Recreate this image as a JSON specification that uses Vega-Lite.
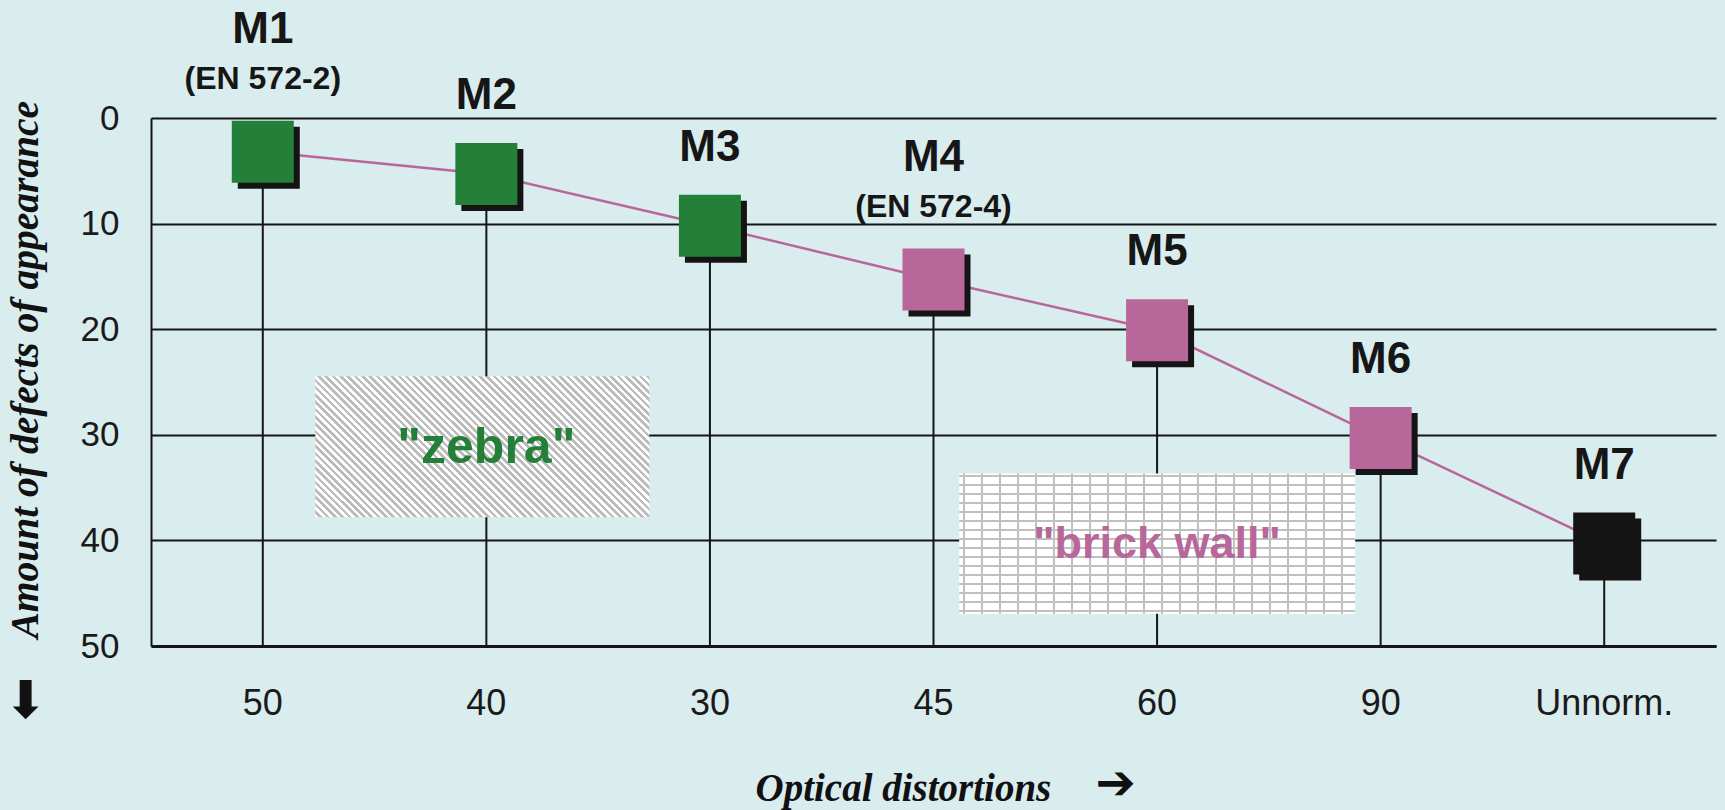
{
  "$schema": "https://vega.github.io/schema/vega-lite/v6.json",
  "width": 1565,
  "height": 528,
  "autosize": {"type": "none"},
  "padding": {"left": 151, "top": 118, "right": 9, "bottom": 164},
  "background": "#D9ECEE",
  "datasets": {
    "main": [
      {"m": "M1", "sub": "(EN 572-2)", "opt": "50", "v": 3.2, "grp": "zebra"},
      {"m": "M2", "sub": "", "opt": "40", "v": 5.3, "grp": "zebra"},
      {"m": "M3", "sub": "", "opt": "30", "v": 10.2, "grp": "zebra"},
      {"m": "M4", "sub": "(EN 572-4)", "opt": "45", "v": 15.3, "grp": "brick wall"},
      {"m": "M5", "sub": "", "opt": "60", "v": 20.1, "grp": "brick wall"},
      {"m": "M6", "sub": "", "opt": "90", "v": 30.3, "grp": "brick wall"},
      {"m": "M7", "sub": "", "opt": "Unnorm.", "v": 40.3, "grp": "unnormed"}
    ],
    "boxes": [
      {"name": "zebra", "x0": 0.735, "x1": 2.229, "y0": 24.45, "y1": 37.8},
      {"name": "brick", "x0": 3.615, "x1": 5.386, "y0": 33.66, "y1": 46.94}
    ],
    "notes": [
      {"text": "\"zebra\"", "opt": "40", "v": 32.7, "grp": "zebra"},
      {"text": "\"brick wall\"", "opt": "60", "v": 41.7, "grp": "brick wall"}
    ]
  },
  "layer": [
    {
      "data": {"name": "main"},
      "mark": {"type": "rule", "color": "#161616", "strokeWidth": 2},
      "encoding": {
        "x": {"field": "opt", "type": "nominal", "scale": {"domain": ["50", "40", "30", "45", "60", "90", "Unnorm."]},
          "axis": {"title": "Optical distortions", "titleAlign": "left", "titleAnchor": "start", "titleBaseline": "alphabetic", "titleX": 604, "titleY": 154}},
        "y": {"field": "v", "type": "quantitative",
          "scale": {"domain": [0, 50], "reverse": true, "nice": false, "zero": false},
          "axis": {"values": [0, 10, 20, 30, 40, 50], "title": "Amount of defects of appearance", "titleFontSize": 39.5, "titleAngle": 270, "titleAlign": "left", "titleBaseline": "alphabetic", "titleX": -114, "titleY": 520}},
        "y2": {"datum": 50}
      }
    },
    {
      "data": {"name": "boxes"},
      "encoding": {
        "x": {"field": "x0", "type": "quantitative", "scale": {"domain": [0, 7], "nice": false, "zero": false}, "axis": null},
        "x2": {"field": "x1"},
        "y": {"field": "y0", "type": "quantitative",
          "scale": {"domain": [0, 50], "reverse": true, "nice": false, "zero": false},
          "axis": {"orient": "right", "title": "\u2b07", "titleFont": "DejaVu Sans", "titleFontSize": 52, "titleFontStyle": "normal", "titleFontWeight": "normal", "titleColor": "#111111",
            "titleAngle": 0, "titleAlign": "center", "titleBaseline": "middle", "titleX": -1691, "titleY": 583,
            "labels": false, "domain": false, "grid": false, "ticks": false}},
        "y2": {"field": "y1"}
      },
      "layer": [
        {
          "transform": [{"filter": "datum.name == 'zebra'"}],
          "mark": {"type": "rect", "strokeWidth": 0, "fill": {"gradient": "linear", "x1": 0, "y1": 1, "x2": 1.2071, "y2": 0.4904, "stops": [
            {"offset": 0, "color": "#fff"},
            {"offset": 0.0077, "color": "#fff"}, {"offset": 0.0077, "color": "#bcbcbc"}, {"offset": 0.0154, "color": "#bcbcbc"}, {"offset": 0.0154, "color": "#fff"},
            {"offset": 0.0231, "color": "#fff"}, {"offset": 0.0231, "color": "#bcbcbc"}, {"offset": 0.0308, "color": "#bcbcbc"}, {"offset": 0.0308, "color": "#fff"},
            {"offset": 0.0385, "color": "#fff"}, {"offset": 0.0385, "color": "#bcbcbc"}, {"offset": 0.0462, "color": "#bcbcbc"}, {"offset": 0.0462, "color": "#fff"},
            {"offset": 0.0538, "color": "#fff"}, {"offset": 0.0538, "color": "#bcbcbc"}, {"offset": 0.0615, "color": "#bcbcbc"}, {"offset": 0.0615, "color": "#fff"},
            {"offset": 0.0692, "color": "#fff"}, {"offset": 0.0692, "color": "#bcbcbc"}, {"offset": 0.0769, "color": "#bcbcbc"}, {"offset": 0.0769, "color": "#fff"},
            {"offset": 0.0846, "color": "#fff"}, {"offset": 0.0846, "color": "#bcbcbc"}, {"offset": 0.0923, "color": "#bcbcbc"}, {"offset": 0.0923, "color": "#fff"},
            {"offset": 0.1, "color": "#fff"}, {"offset": 0.1, "color": "#bcbcbc"}, {"offset": 0.1077, "color": "#bcbcbc"}, {"offset": 0.1077, "color": "#fff"},
            {"offset": 0.1154, "color": "#fff"}, {"offset": 0.1154, "color": "#bcbcbc"}, {"offset": 0.1231, "color": "#bcbcbc"}, {"offset": 0.1231, "color": "#fff"},
            {"offset": 0.1308, "color": "#fff"}, {"offset": 0.1308, "color": "#bcbcbc"}, {"offset": 0.1385, "color": "#bcbcbc"}, {"offset": 0.1385, "color": "#fff"},
            {"offset": 0.1462, "color": "#fff"}, {"offset": 0.1462, "color": "#bcbcbc"}, {"offset": 0.1538, "color": "#bcbcbc"}, {"offset": 0.1538, "color": "#fff"},
            {"offset": 0.1615, "color": "#fff"}, {"offset": 0.1615, "color": "#bcbcbc"}, {"offset": 0.1692, "color": "#bcbcbc"}, {"offset": 0.1692, "color": "#fff"},
            {"offset": 0.1769, "color": "#fff"}, {"offset": 0.1769, "color": "#bcbcbc"}, {"offset": 0.1846, "color": "#bcbcbc"}, {"offset": 0.1846, "color": "#fff"},
            {"offset": 0.1923, "color": "#fff"}, {"offset": 0.1923, "color": "#bcbcbc"}, {"offset": 0.2, "color": "#bcbcbc"}, {"offset": 0.2, "color": "#fff"},
            {"offset": 0.2077, "color": "#fff"}, {"offset": 0.2077, "color": "#bcbcbc"}, {"offset": 0.2154, "color": "#bcbcbc"}, {"offset": 0.2154, "color": "#fff"},
            {"offset": 0.2231, "color": "#fff"}, {"offset": 0.2231, "color": "#bcbcbc"}, {"offset": 0.2308, "color": "#bcbcbc"}, {"offset": 0.2308, "color": "#fff"},
            {"offset": 0.2385, "color": "#fff"}, {"offset": 0.2385, "color": "#bcbcbc"}, {"offset": 0.2462, "color": "#bcbcbc"}, {"offset": 0.2462, "color": "#fff"},
            {"offset": 0.2538, "color": "#fff"}, {"offset": 0.2538, "color": "#bcbcbc"}, {"offset": 0.2615, "color": "#bcbcbc"}, {"offset": 0.2615, "color": "#fff"},
            {"offset": 0.2692, "color": "#fff"}, {"offset": 0.2692, "color": "#bcbcbc"}, {"offset": 0.2769, "color": "#bcbcbc"}, {"offset": 0.2769, "color": "#fff"},
            {"offset": 0.2846, "color": "#fff"}, {"offset": 0.2846, "color": "#bcbcbc"}, {"offset": 0.2923, "color": "#bcbcbc"}, {"offset": 0.2923, "color": "#fff"},
            {"offset": 0.3, "color": "#fff"}, {"offset": 0.3, "color": "#bcbcbc"}, {"offset": 0.3077, "color": "#bcbcbc"}, {"offset": 0.3077, "color": "#fff"},
            {"offset": 0.3154, "color": "#fff"}, {"offset": 0.3154, "color": "#bcbcbc"}, {"offset": 0.3231, "color": "#bcbcbc"}, {"offset": 0.3231, "color": "#fff"},
            {"offset": 0.3308, "color": "#fff"}, {"offset": 0.3308, "color": "#bcbcbc"}, {"offset": 0.3385, "color": "#bcbcbc"}, {"offset": 0.3385, "color": "#fff"},
            {"offset": 0.3462, "color": "#fff"}, {"offset": 0.3462, "color": "#bcbcbc"}, {"offset": 0.3538, "color": "#bcbcbc"}, {"offset": 0.3538, "color": "#fff"},
            {"offset": 0.3615, "color": "#fff"}, {"offset": 0.3615, "color": "#bcbcbc"}, {"offset": 0.3692, "color": "#bcbcbc"}, {"offset": 0.3692, "color": "#fff"},
            {"offset": 0.3769, "color": "#fff"}, {"offset": 0.3769, "color": "#bcbcbc"}, {"offset": 0.3846, "color": "#bcbcbc"}, {"offset": 0.3846, "color": "#fff"},
            {"offset": 0.3923, "color": "#fff"}, {"offset": 0.3923, "color": "#bcbcbc"}, {"offset": 0.4, "color": "#bcbcbc"}, {"offset": 0.4, "color": "#fff"},
            {"offset": 0.4077, "color": "#fff"}, {"offset": 0.4077, "color": "#bcbcbc"}, {"offset": 0.4154, "color": "#bcbcbc"}, {"offset": 0.4154, "color": "#fff"},
            {"offset": 0.4231, "color": "#fff"}, {"offset": 0.4231, "color": "#bcbcbc"}, {"offset": 0.4308, "color": "#bcbcbc"}, {"offset": 0.4308, "color": "#fff"},
            {"offset": 0.4385, "color": "#fff"}, {"offset": 0.4385, "color": "#bcbcbc"}, {"offset": 0.4462, "color": "#bcbcbc"}, {"offset": 0.4462, "color": "#fff"},
            {"offset": 0.4538, "color": "#fff"}, {"offset": 0.4538, "color": "#bcbcbc"}, {"offset": 0.4615, "color": "#bcbcbc"}, {"offset": 0.4615, "color": "#fff"},
            {"offset": 0.4692, "color": "#fff"}, {"offset": 0.4692, "color": "#bcbcbc"}, {"offset": 0.4769, "color": "#bcbcbc"}, {"offset": 0.4769, "color": "#fff"},
            {"offset": 0.4846, "color": "#fff"}, {"offset": 0.4846, "color": "#bcbcbc"}, {"offset": 0.4923, "color": "#bcbcbc"}, {"offset": 0.4923, "color": "#fff"},
            {"offset": 0.5, "color": "#fff"}, {"offset": 0.5, "color": "#bcbcbc"}, {"offset": 0.5077, "color": "#bcbcbc"}, {"offset": 0.5077, "color": "#fff"},
            {"offset": 0.5154, "color": "#fff"}, {"offset": 0.5154, "color": "#bcbcbc"}, {"offset": 0.5231, "color": "#bcbcbc"}, {"offset": 0.5231, "color": "#fff"},
            {"offset": 0.5308, "color": "#fff"}, {"offset": 0.5308, "color": "#bcbcbc"}, {"offset": 0.5385, "color": "#bcbcbc"}, {"offset": 0.5385, "color": "#fff"},
            {"offset": 0.5462, "color": "#fff"}, {"offset": 0.5462, "color": "#bcbcbc"}, {"offset": 0.5538, "color": "#bcbcbc"}, {"offset": 0.5538, "color": "#fff"},
            {"offset": 0.5615, "color": "#fff"}, {"offset": 0.5615, "color": "#bcbcbc"}, {"offset": 0.5692, "color": "#bcbcbc"}, {"offset": 0.5692, "color": "#fff"},
            {"offset": 0.5769, "color": "#fff"}, {"offset": 0.5769, "color": "#bcbcbc"}, {"offset": 0.5846, "color": "#bcbcbc"}, {"offset": 0.5846, "color": "#fff"},
            {"offset": 0.5923, "color": "#fff"}, {"offset": 0.5923, "color": "#bcbcbc"}, {"offset": 0.6, "color": "#bcbcbc"}, {"offset": 0.6, "color": "#fff"},
            {"offset": 0.6077, "color": "#fff"}, {"offset": 0.6077, "color": "#bcbcbc"}, {"offset": 0.6154, "color": "#bcbcbc"}, {"offset": 0.6154, "color": "#fff"},
            {"offset": 0.6231, "color": "#fff"}, {"offset": 0.6231, "color": "#bcbcbc"}, {"offset": 0.6308, "color": "#bcbcbc"}, {"offset": 0.6308, "color": "#fff"},
            {"offset": 0.6385, "color": "#fff"}, {"offset": 0.6385, "color": "#bcbcbc"}, {"offset": 0.6462, "color": "#bcbcbc"}, {"offset": 0.6462, "color": "#fff"},
            {"offset": 0.6538, "color": "#fff"}, {"offset": 0.6538, "color": "#bcbcbc"}, {"offset": 0.6615, "color": "#bcbcbc"}, {"offset": 0.6615, "color": "#fff"},
            {"offset": 0.6692, "color": "#fff"}, {"offset": 0.6692, "color": "#bcbcbc"}, {"offset": 0.6769, "color": "#bcbcbc"}, {"offset": 0.6769, "color": "#fff"},
            {"offset": 0.6846, "color": "#fff"}, {"offset": 0.6846, "color": "#bcbcbc"}, {"offset": 0.6923, "color": "#bcbcbc"}, {"offset": 0.6923, "color": "#fff"},
            {"offset": 0.7, "color": "#fff"}, {"offset": 0.7, "color": "#bcbcbc"}, {"offset": 0.7077, "color": "#bcbcbc"}, {"offset": 0.7077, "color": "#fff"},
            {"offset": 0.7154, "color": "#fff"}, {"offset": 0.7154, "color": "#bcbcbc"}, {"offset": 0.7231, "color": "#bcbcbc"}, {"offset": 0.7231, "color": "#fff"},
            {"offset": 0.7308, "color": "#fff"}, {"offset": 0.7308, "color": "#bcbcbc"}, {"offset": 0.7385, "color": "#bcbcbc"}, {"offset": 0.7385, "color": "#fff"},
            {"offset": 0.7462, "color": "#fff"}, {"offset": 0.7462, "color": "#bcbcbc"}, {"offset": 0.7538, "color": "#bcbcbc"}, {"offset": 0.7538, "color": "#fff"},
            {"offset": 0.7615, "color": "#fff"}, {"offset": 0.7615, "color": "#bcbcbc"}, {"offset": 0.7692, "color": "#bcbcbc"}, {"offset": 0.7692, "color": "#fff"},
            {"offset": 0.7769, "color": "#fff"}, {"offset": 0.7769, "color": "#bcbcbc"}, {"offset": 0.7846, "color": "#bcbcbc"}, {"offset": 0.7846, "color": "#fff"},
            {"offset": 0.7923, "color": "#fff"}, {"offset": 0.7923, "color": "#bcbcbc"}, {"offset": 0.8, "color": "#bcbcbc"}, {"offset": 0.8, "color": "#fff"},
            {"offset": 0.8077, "color": "#fff"}, {"offset": 0.8077, "color": "#bcbcbc"}, {"offset": 0.8154, "color": "#bcbcbc"}, {"offset": 0.8154, "color": "#fff"},
            {"offset": 0.8231, "color": "#fff"}, {"offset": 0.8231, "color": "#bcbcbc"}, {"offset": 0.8308, "color": "#bcbcbc"}, {"offset": 0.8308, "color": "#fff"},
            {"offset": 0.8385, "color": "#fff"}, {"offset": 0.8385, "color": "#bcbcbc"}, {"offset": 0.8462, "color": "#bcbcbc"}, {"offset": 0.8462, "color": "#fff"},
            {"offset": 0.8538, "color": "#fff"}, {"offset": 0.8538, "color": "#bcbcbc"}, {"offset": 0.8615, "color": "#bcbcbc"}, {"offset": 0.8615, "color": "#fff"},
            {"offset": 0.8692, "color": "#fff"}, {"offset": 0.8692, "color": "#bcbcbc"}, {"offset": 0.8769, "color": "#bcbcbc"}, {"offset": 0.8769, "color": "#fff"},
            {"offset": 0.8846, "color": "#fff"}, {"offset": 0.8846, "color": "#bcbcbc"}, {"offset": 0.8923, "color": "#bcbcbc"}, {"offset": 0.8923, "color": "#fff"},
            {"offset": 0.9, "color": "#fff"}, {"offset": 0.9, "color": "#bcbcbc"}, {"offset": 0.9077, "color": "#bcbcbc"}, {"offset": 0.9077, "color": "#fff"},
            {"offset": 0.9154, "color": "#fff"}, {"offset": 0.9154, "color": "#bcbcbc"}, {"offset": 0.9231, "color": "#bcbcbc"}, {"offset": 0.9231, "color": "#fff"},
            {"offset": 0.9308, "color": "#fff"}, {"offset": 0.9308, "color": "#bcbcbc"}, {"offset": 0.9385, "color": "#bcbcbc"}, {"offset": 0.9385, "color": "#fff"},
            {"offset": 0.9462, "color": "#fff"}, {"offset": 0.9462, "color": "#bcbcbc"}, {"offset": 0.9538, "color": "#bcbcbc"}, {"offset": 0.9538, "color": "#fff"},
            {"offset": 0.9615, "color": "#fff"}, {"offset": 0.9615, "color": "#bcbcbc"}, {"offset": 0.9692, "color": "#bcbcbc"}, {"offset": 0.9692, "color": "#fff"},
            {"offset": 0.9769, "color": "#fff"}, {"offset": 0.9769, "color": "#bcbcbc"}, {"offset": 0.9846, "color": "#bcbcbc"}, {"offset": 0.9846, "color": "#fff"},
            {"offset": 0.9923, "color": "#fff"}, {"offset": 0.9923, "color": "#bcbcbc"}, {"offset": 1, "color": "#bcbcbc"}
          ]}}
        },
        {
          "transform": [{"filter": "datum.name == 'brick'"}],
          "mark": {"type": "rect", "strokeWidth": 0, "fill": {"gradient": "linear", "x1": 0, "y1": 0, "x2": 1, "y2": 0, "stops": [
            {"offset": 0, "color": "#fff"},
            {"offset": 0.0101, "color": "#fff"}, {"offset": 0.0101, "color": "#c0c0c0"}, {"offset": 0.0152, "color": "#c0c0c0"}, {"offset": 0.0152, "color": "#fff"},
            {"offset": 0.0556, "color": "#fff"}, {"offset": 0.0556, "color": "#c0c0c0"}, {"offset": 0.0606, "color": "#c0c0c0"}, {"offset": 0.0606, "color": "#fff"},
            {"offset": 0.1010, "color": "#fff"}, {"offset": 0.1010, "color": "#c0c0c0"}, {"offset": 0.1061, "color": "#c0c0c0"}, {"offset": 0.1061, "color": "#fff"},
            {"offset": 0.1465, "color": "#fff"}, {"offset": 0.1465, "color": "#c0c0c0"}, {"offset": 0.1515, "color": "#c0c0c0"}, {"offset": 0.1515, "color": "#fff"},
            {"offset": 0.1919, "color": "#fff"}, {"offset": 0.1919, "color": "#c0c0c0"}, {"offset": 0.1970, "color": "#c0c0c0"}, {"offset": 0.1970, "color": "#fff"},
            {"offset": 0.2374, "color": "#fff"}, {"offset": 0.2374, "color": "#c0c0c0"}, {"offset": 0.2424, "color": "#c0c0c0"}, {"offset": 0.2424, "color": "#fff"},
            {"offset": 0.2828, "color": "#fff"}, {"offset": 0.2828, "color": "#c0c0c0"}, {"offset": 0.2879, "color": "#c0c0c0"}, {"offset": 0.2879, "color": "#fff"},
            {"offset": 0.3283, "color": "#fff"}, {"offset": 0.3283, "color": "#c0c0c0"}, {"offset": 0.3333, "color": "#c0c0c0"}, {"offset": 0.3333, "color": "#fff"},
            {"offset": 0.3737, "color": "#fff"}, {"offset": 0.3737, "color": "#c0c0c0"}, {"offset": 0.3788, "color": "#c0c0c0"}, {"offset": 0.3788, "color": "#fff"},
            {"offset": 0.4192, "color": "#fff"}, {"offset": 0.4192, "color": "#c0c0c0"}, {"offset": 0.4242, "color": "#c0c0c0"}, {"offset": 0.4242, "color": "#fff"},
            {"offset": 0.4646, "color": "#fff"}, {"offset": 0.4646, "color": "#c0c0c0"}, {"offset": 0.4697, "color": "#c0c0c0"}, {"offset": 0.4697, "color": "#fff"},
            {"offset": 0.5101, "color": "#fff"}, {"offset": 0.5101, "color": "#c0c0c0"}, {"offset": 0.5152, "color": "#c0c0c0"}, {"offset": 0.5152, "color": "#fff"},
            {"offset": 0.5556, "color": "#fff"}, {"offset": 0.5556, "color": "#c0c0c0"}, {"offset": 0.5606, "color": "#c0c0c0"}, {"offset": 0.5606, "color": "#fff"},
            {"offset": 0.6010, "color": "#fff"}, {"offset": 0.6010, "color": "#c0c0c0"}, {"offset": 0.6061, "color": "#c0c0c0"}, {"offset": 0.6061, "color": "#fff"},
            {"offset": 0.6465, "color": "#fff"}, {"offset": 0.6465, "color": "#c0c0c0"}, {"offset": 0.6515, "color": "#c0c0c0"}, {"offset": 0.6515, "color": "#fff"},
            {"offset": 0.6919, "color": "#fff"}, {"offset": 0.6919, "color": "#c0c0c0"}, {"offset": 0.6970, "color": "#c0c0c0"}, {"offset": 0.6970, "color": "#fff"},
            {"offset": 0.7374, "color": "#fff"}, {"offset": 0.7374, "color": "#c0c0c0"}, {"offset": 0.7424, "color": "#c0c0c0"}, {"offset": 0.7424, "color": "#fff"},
            {"offset": 0.7828, "color": "#fff"}, {"offset": 0.7828, "color": "#c0c0c0"}, {"offset": 0.7879, "color": "#c0c0c0"}, {"offset": 0.7879, "color": "#fff"},
            {"offset": 0.8283, "color": "#fff"}, {"offset": 0.8283, "color": "#c0c0c0"}, {"offset": 0.8333, "color": "#c0c0c0"}, {"offset": 0.8333, "color": "#fff"},
            {"offset": 0.8737, "color": "#fff"}, {"offset": 0.8737, "color": "#c0c0c0"}, {"offset": 0.8788, "color": "#c0c0c0"}, {"offset": 0.8788, "color": "#fff"},
            {"offset": 0.9192, "color": "#fff"}, {"offset": 0.9192, "color": "#c0c0c0"}, {"offset": 0.9242, "color": "#c0c0c0"}, {"offset": 0.9242, "color": "#fff"},
            {"offset": 0.9646, "color": "#fff"}, {"offset": 0.9646, "color": "#c0c0c0"}, {"offset": 0.9697, "color": "#c0c0c0"}, {"offset": 0.9697, "color": "#fff"},
            {"offset": 1, "color": "#fff"}
          ]}}
        },
        {
          "transform": [{"filter": "datum.name == 'brick'"}],
          "mark": {"type": "rect", "strokeWidth": 0, "fill": {"gradient": "linear", "x1": 0, "y1": 0, "x2": 0, "y2": 1, "stops": [
            {"offset": 0, "color": "rgba(192,192,192,0)"},
            {"offset": 0.0121, "color": "rgba(192,192,192,0)"}, {"offset": 0.0121, "color": "#c0c0c0"}, {"offset": 0.0264, "color": "#c0c0c0"}, {"offset": 0.0264, "color": "rgba(192,192,192,0)"},
            {"offset": 0.0763, "color": "rgba(192,192,192,0)"}, {"offset": 0.0763, "color": "#c0c0c0"}, {"offset": 0.0906, "color": "#c0c0c0"}, {"offset": 0.0906, "color": "rgba(192,192,192,0)"},
            {"offset": 0.1405, "color": "rgba(192,192,192,0)"}, {"offset": 0.1405, "color": "#c0c0c0"}, {"offset": 0.1548, "color": "#c0c0c0"}, {"offset": 0.1548, "color": "rgba(192,192,192,0)"},
            {"offset": 0.2047, "color": "rgba(192,192,192,0)"}, {"offset": 0.2047, "color": "#c0c0c0"}, {"offset": 0.2190, "color": "#c0c0c0"}, {"offset": 0.2190, "color": "rgba(192,192,192,0)"},
            {"offset": 0.2689, "color": "rgba(192,192,192,0)"}, {"offset": 0.2689, "color": "#c0c0c0"}, {"offset": 0.2832, "color": "#c0c0c0"}, {"offset": 0.2832, "color": "rgba(192,192,192,0)"},
            {"offset": 0.3331, "color": "rgba(192,192,192,0)"}, {"offset": 0.3331, "color": "#c0c0c0"}, {"offset": 0.3474, "color": "#c0c0c0"}, {"offset": 0.3474, "color": "rgba(192,192,192,0)"},
            {"offset": 0.3973, "color": "rgba(192,192,192,0)"}, {"offset": 0.3973, "color": "#c0c0c0"}, {"offset": 0.4116, "color": "#c0c0c0"}, {"offset": 0.4116, "color": "rgba(192,192,192,0)"},
            {"offset": 0.4615, "color": "rgba(192,192,192,0)"}, {"offset": 0.4615, "color": "#c0c0c0"}, {"offset": 0.4758, "color": "#c0c0c0"}, {"offset": 0.4758, "color": "rgba(192,192,192,0)"},
            {"offset": 0.5257, "color": "rgba(192,192,192,0)"}, {"offset": 0.5257, "color": "#c0c0c0"}, {"offset": 0.5400, "color": "#c0c0c0"}, {"offset": 0.5400, "color": "rgba(192,192,192,0)"},
            {"offset": 0.5899, "color": "rgba(192,192,192,0)"}, {"offset": 0.5899, "color": "#c0c0c0"}, {"offset": 0.6042, "color": "#c0c0c0"}, {"offset": 0.6042, "color": "rgba(192,192,192,0)"},
            {"offset": 0.6541, "color": "rgba(192,192,192,0)"}, {"offset": 0.6541, "color": "#c0c0c0"}, {"offset": 0.6684, "color": "#c0c0c0"}, {"offset": 0.6684, "color": "rgba(192,192,192,0)"},
            {"offset": 0.7183, "color": "rgba(192,192,192,0)"}, {"offset": 0.7183, "color": "#c0c0c0"}, {"offset": 0.7326, "color": "#c0c0c0"}, {"offset": 0.7326, "color": "rgba(192,192,192,0)"},
            {"offset": 0.7825, "color": "rgba(192,192,192,0)"}, {"offset": 0.7825, "color": "#c0c0c0"}, {"offset": 0.7967, "color": "#c0c0c0"}, {"offset": 0.7967, "color": "rgba(192,192,192,0)"},
            {"offset": 0.8466, "color": "rgba(192,192,192,0)"}, {"offset": 0.8466, "color": "#c0c0c0"}, {"offset": 0.8609, "color": "#c0c0c0"}, {"offset": 0.8609, "color": "rgba(192,192,192,0)"},
            {"offset": 0.9108, "color": "rgba(192,192,192,0)"}, {"offset": 0.9108, "color": "#c0c0c0"}, {"offset": 0.9251, "color": "#c0c0c0"}, {"offset": 0.9251, "color": "rgba(192,192,192,0)"},
            {"offset": 0.9750, "color": "rgba(192,192,192,0)"}, {"offset": 0.9750, "color": "#c0c0c0"}, {"offset": 0.9893, "color": "#c0c0c0"}, {"offset": 0.9893, "color": "rgba(192,192,192,0)"},
            {"offset": 1, "color": "rgba(192,192,192,0)"}
          ]}}
        }
      ]
    },
    {
      "data": {"name": "notes"},
      "encoding": {
        "x": {"field": "opt", "type": "nominal", "scale": {"domain": ["50", "40", "30", "45", "60", "90", "Unnorm."]},
          "axis": {"orient": "top", "title": "\u2794", "titleFont": "DejaVu Sans", "titleFontSize": 48, "titleFontStyle": "normal", "titleFontWeight": "bold", "titleColor": "#111111",
            "titleAngle": 0, "titleAlign": "center", "titleBaseline": "middle", "titleX": 964, "titleY": 666,
            "labels": false, "domain": false, "grid": false, "ticks": false}},
        "y": {"field": "v", "type": "quantitative", "scale": {"domain": [0, 50], "reverse": true, "nice": false, "zero": false}, "axis": null},
        "text": {"field": "text"}
      },
      "layer": [
        {
          "transform": [{"filter": "datum.grp == 'zebra'"}],
          "mark": {"type": "text", "font": "Liberation Sans", "fontWeight": "bold", "fontSize": 50, "color": "#248039", "baseline": "alphabetic", "align": "center"}
        },
        {
          "transform": [{"filter": "datum.grp == 'brick wall'"}],
          "mark": {"type": "text", "font": "Liberation Sans", "fontWeight": "bold", "fontSize": 45, "color": "#B7679A", "baseline": "alphabetic", "align": "center"}
        }
      ]
    },
    {
      "data": {"name": "main"},
      "encoding": {
        "x": {"field": "opt", "type": "nominal", "scale": {"domain": ["50", "40", "30", "45", "60", "90", "Unnorm."]}, "axis": null},
        "y": {"field": "v", "type": "quantitative", "scale": {"domain": [0, 50], "reverse": true, "nice": false, "zero": false}, "axis": null}
      },
      "layer": [
        {
          "mark": {"type": "line", "color": "#B7679A", "strokeWidth": 2.5},
          "encoding": {"order": {"field": "v", "type": "quantitative"}}
        },
        {
          "mark": {"type": "point", "shape": "square", "filled": true, "size": 3844, "color": "#141414", "opacity": 1, "xOffset": 6, "yOffset": 6}
        },
        {
          "mark": {"type": "point", "shape": "square", "filled": true, "size": 3844, "opacity": 1},
          "encoding": {
            "color": {"field": "grp", "type": "nominal", "scale": {"domain": ["zebra", "brick wall", "unnormed"], "range": ["#248039", "#B7679A", "#141414"]}, "legend": null}
          }
        },
        {
          "transform": [{"filter": "datum.sub == ''"}],
          "mark": {"type": "text", "font": "Liberation Sans", "fontWeight": "bold", "fontSize": 44, "color": "#161616", "baseline": "alphabetic", "align": "center", "dy": -65},
          "encoding": {"text": {"field": "m"}}
        },
        {
          "transform": [{"filter": "datum.sub != ''"}],
          "mark": {"type": "text", "font": "Liberation Sans", "fontWeight": "bold", "fontSize": 44, "color": "#161616", "baseline": "alphabetic", "align": "center", "dy": -109},
          "encoding": {"text": {"field": "m"}}
        },
        {
          "transform": [{"filter": "datum.sub != ''"}],
          "mark": {"type": "text", "font": "Liberation Sans", "fontWeight": "bold", "fontSize": 32, "color": "#161616", "baseline": "alphabetic", "align": "center", "dy": -63},
          "encoding": {"text": {"field": "sub"}}
        }
      ]
    }
  ],
  "resolve": {"scale": {"x": "independent", "y": "independent"}, "axis": {"x": "independent", "y": "independent"}},
  "config": {
    "view": {"stroke": null},
    "axis": {
      "labelFont": "Liberation Sans", "labelColor": "#1a1a1a", "ticks": false, "tickSize": 0,
      "domainColor": "#161616", "gridColor": "#161616", "gridOpacity": 1,
      "titleFont": "Liberation Serif", "titleFontStyle": "italic", "titleFontWeight": "bold", "titleFontSize": 39, "titleColor": "#111111"
    },
    "axisX": {"grid": false, "domainWidth": 3, "labelFontSize": 36, "labelAngle": 0, "labelBaseline": "alphabetic", "labelPadding": 68},
    "axisY": {"grid": true, "gridWidth": 2, "domainWidth": 2, "labelFontSize": 35, "labelPadding": 32}
  }
}
